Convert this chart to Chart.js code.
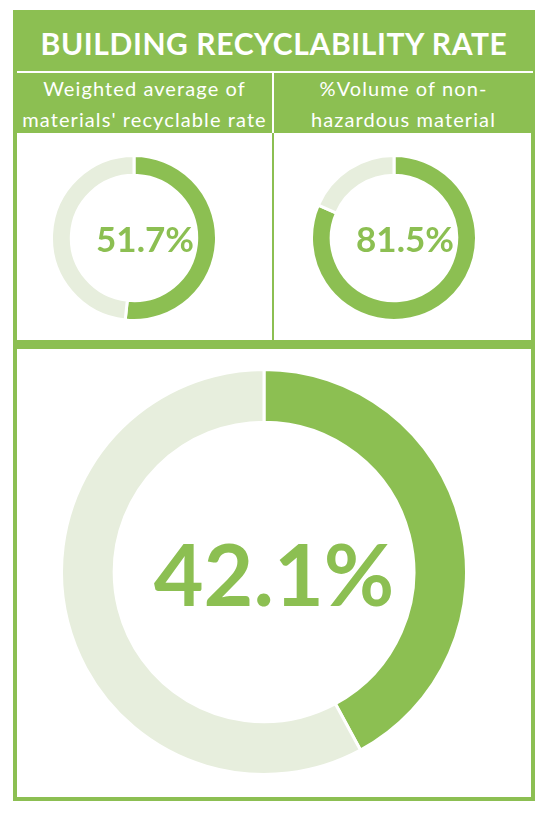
<!DOCTYPE html>
<html>
<head>
<meta charset="utf-8">
<script src="https://cdn.jsdelivr.net/npm/chart.js@4"></script>
<style>
  html, body { margin: 0; padding: 0; background: #fff; }
  #page { position: relative; width: 550px; height: 817px; overflow: hidden; font-family: Lato, "Open Sans", sans-serif; }
  .abs { position: absolute; }
  .frame { left: 13px; top: 10px; width: 514px; height: 783px; border: 4px solid #8cbf52; background: #fff; }
  .band { left: 13px; top: 10px; width: 522px; height: 123px; background: #8cbf52; }
  .title { left: 13px; top: 23px; width: 522px; text-align: center; color: #fff; font-weight: 700; font-size: 30px; line-height: 40px; letter-spacing: 0.6px; }
  .sub { color: #fff; font-size: 20px; line-height: 31px; text-align: center; letter-spacing: 1.1px; white-space: nowrap; }
  .hline { background: #fff; }
  .center { display: flex; align-items: center; justify-content: center; color: #8cbf52; font-weight: 700; }
</style>
</head>
<body>
<div id="page">
  <div class="abs frame"></div>
  <div class="abs band"></div>
  <div class="abs title">BUILDING RECYCLABILITY RATE</div>
  <div class="abs hline" style="left:17px; top:71px; width:516px; height:2px;"></div>
  <div class="abs hline" style="left:272px; top:73px; width:2px; height:60px;"></div>
  <div class="abs sub" id="sub1" style="left:17px; top:73px; width:255px;"></div>
  <div class="abs sub" id="sub2" style="left:274px; top:73px; width:259px;"></div>
  <div class="abs" style="left:272px; top:133px; width:2px; height:208px; background:#8cbf52;"></div>
  <div class="abs" style="left:13px; top:340px; width:522px; height:9px; background:#8cbf52;"></div>

  <canvas class="abs" id="chart1" style="left:50px; top:154px;"></canvas>
  <div class="abs center" id="label1" style="left:61px; top:154px; width:168px; height:168px; font-size:35px;"></div>
  <canvas class="abs" id="chart2" style="left:310px; top:154px;"></canvas>
  <div class="abs center" id="label2" style="left:321px; top:154px; width:168px; height:168px; font-size:35px;"></div>
  <canvas class="abs" id="chart3" style="left:60px; top:368px;"></canvas>
  <div class="abs center" id="label3" style="left:70px; top:368px; width:408px; height:408px; font-size:86px;"></div>
</div>
<script>
// dados
const categories = ['Recyclable', 'Remaining'];
const weightedAverage = [51.7, 48.3];
const nonHazardous = [81.5, 18.5];
const buildingRate = [42.1, 57.9];
const subtitle1 = ['Weighted average of', "materials' recyclable rate"];
const subtitle2 = ['%Volume of non-', 'hazardous material'];

const GREEN = '#8cbf52';
const LIGHT = '#e7eedd';

function makeDonut(id, values, size, cutout) {
  const canvas = document.getElementById(id);
  canvas.width = size;
  canvas.height = size;
  canvas.style.width = size + 'px';
  canvas.style.height = size + 'px';
  new Chart(canvas.getContext('2d'), {
    type: 'doughnut',
    data: {
      labels: categories,
      datasets: [{
        data: values,
        backgroundColor: [GREEN, LIGHT],
        borderColor: '#ffffff',
        borderWidth: 3
      }]
    },
    options: {
      responsive: false,
      animation: false,
      cutout: cutout,
      layout: { padding: 0 },
      plugins: {
        legend: { display: false },
        tooltip: { enabled: false }
      }
    }
  });
}

document.getElementById('sub1').innerHTML = subtitle1.join('<br>');
document.getElementById('sub2').innerHTML = subtitle2.join('<br>');

makeDonut('chart1', weightedAverage, 168, '76%');
makeDonut('chart2', nonHazardous, 168, '76%');
makeDonut('chart3', buildingRate, 408, '74%');

document.getElementById('label1').textContent = weightedAverage[0].toFixed(1) + '%';
document.getElementById('label2').textContent = nonHazardous[0].toFixed(1) + '%';
document.getElementById('label3').textContent = buildingRate[0].toFixed(1) + '%';
</script>
</body>
</html>
